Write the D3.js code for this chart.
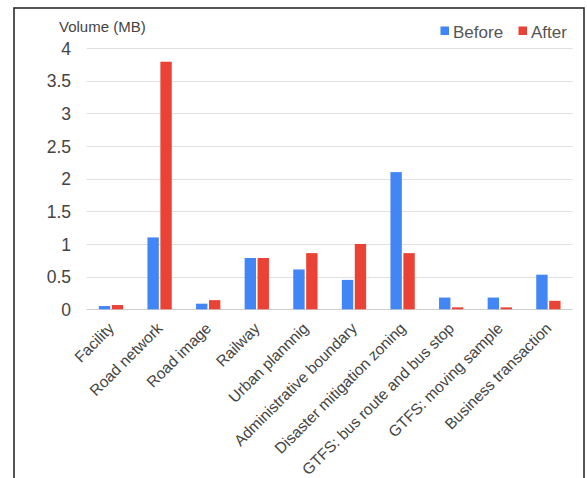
<!DOCTYPE html>
<html>
<head>
<meta charset="utf-8">
<script src="https://cdn.jsdelivr.net/npm/d3@7"></script>
<style>
  html, body { margin: 0; padding: 0; background: #fff; }
  svg { display: block; font-family: Arial, "Liberation Sans", sans-serif; }
</style>
</head>
<body>
<svg id="chart" width="587" height="478"></svg>
<script>
// Dataset categories and file sizes (MB) before and after conversion
const categories = [
  "Facility", "Road network", "Road image", "Railway", "Urban plannnig",
  "Administrative boundary", "Disaster mitigation zoning",
  "GTFS: bus route and bus stop", "GTFS: moving sample", "Business transaction"
];
const beforeValues = [0.05, 1.10, 0.086, 0.785, 0.61, 0.45, 2.10, 0.18, 0.18, 0.53];
const afterValues  = [0.065, 3.79, 0.14, 0.785, 0.86, 1.00, 0.86, 0.03, 0.03, 0.13];
const seriesNames = ["Before", "After"];
const seriesColors = ["#4285F4", "#EA4335"];
const yTicks = [0, 0.5, 1, 1.5, 2, 2.5, 3, 3.5, 4];
const yTitle = "Volume (MB)";

const svg = d3.select("#chart");

// outer frame
svg.append("rect")
  .attr("x", 14).attr("y", 8)
  .attr("width", 570).attr("height", 490)
  .attr("fill", "none").attr("stroke", "#2b2b2b").attr("stroke-width", 1.6);

const plot = { left: 86.7, right: 572.7, top: 48, bottom: 309.3 };

const x0 = d3.scaleBand()
  .domain(categories)
  .range([plot.left, plot.right])
  .paddingInner(0.5)
  .paddingOuter(0.25);

const x1 = d3.scaleBand()
  .domain(seriesNames)
  .range([0, x0.bandwidth()])
  .paddingInner(0.12);

const y = d3.scaleLinear()
  .domain([0, 4])
  .range([plot.bottom, plot.top]);

const color = d3.scaleOrdinal().domain(seriesNames).range(seriesColors);

// gridlines
svg.append("g")
  .selectAll("line")
  .data(yTicks)
  .join("line")
  .attr("x1", plot.left).attr("x2", plot.right)
  .attr("y1", d => Math.round(y(d)) + 0.5).attr("y2", d => Math.round(y(d)) + 0.5)
  .attr("stroke", d => d === 0 ? "#cfcfcf" : "#e0e0e0")
  .attr("stroke-width", 1);

// y axis labels
const yAxis = d3.axisLeft(y).tickValues(yTicks).tickSize(0).tickPadding(0)
  .tickFormat(d3.format("~g"));
const yG = svg.append("g")
  .attr("transform", `translate(71,0)`)
  .call(yAxis);
yG.select(".domain").remove();
yG.selectAll("text")
  .attr("x", 0)
  .attr("dy", "0.35em")
  .attr("fill", "#444")
  .style("font-size", "17.5px")
  .style("font-family", "Arial, 'Liberation Sans', sans-serif");

// y title
svg.append("text")
  .attr("x", 59).attr("y", 31.5)
  .attr("fill", "#444")
  .style("font-size", "15px")
  .text(yTitle);

// bars
const rows = categories.map((c, i) => ({
  category: c,
  values: [
    { key: "Before", value: beforeValues[i] },
    { key: "After", value: afterValues[i] }
  ]
}));

svg.append("g")
  .selectAll("g")
  .data(rows)
  .join("g")
  .attr("transform", d => `translate(${x0(d.category)},0)`)
  .selectAll("rect")
  .data(d => d.values)
  .join("rect")
  .attr("x", d => x1(d.key))
  .attr("width", x1.bandwidth())
  .attr("y", d => y(d.value))
  .attr("height", d => y(0) - y(d.value))
  .attr("fill", d => color(d.key));

// x axis labels, rotated
const xAxis = d3.axisBottom(x0).tickSize(0).tickPadding(0);
const xG = svg.append("g")
  .attr("transform", `translate(0,${plot.bottom})`)
  .call(xAxis);
xG.select(".domain").remove();
xG.selectAll("text")
  .attr("y", 0).attr("dy", 0)
  .attr("transform", "translate(4,20) rotate(-45)")
  .attr("text-anchor", "end")
  .attr("fill", "#444")
  .style("font-size", "15.5px")
  .style("font-family", "Arial, 'Liberation Sans', sans-serif");

// legend
const legend = svg.append("g");
const legendItems = [
  { key: "Before", x: 440.5, tx: 453 },
  { key: "After", x: 518.5, tx: 531 }
];
legend.selectAll("rect")
  .data(legendItems)
  .join("rect")
  .attr("x", d => d.x).attr("y", 26.5)
  .attr("width", 8.5).attr("height", 8.5)
  .attr("fill", d => color(d.key));
legend.selectAll("text")
  .data(legendItems)
  .join("text")
  .attr("x", d => d.tx).attr("y", 37.5)
  .attr("fill", "#555")
  .style("font-size", "17px")
  .text(d => d.key);
</script>
</body>
</html>
